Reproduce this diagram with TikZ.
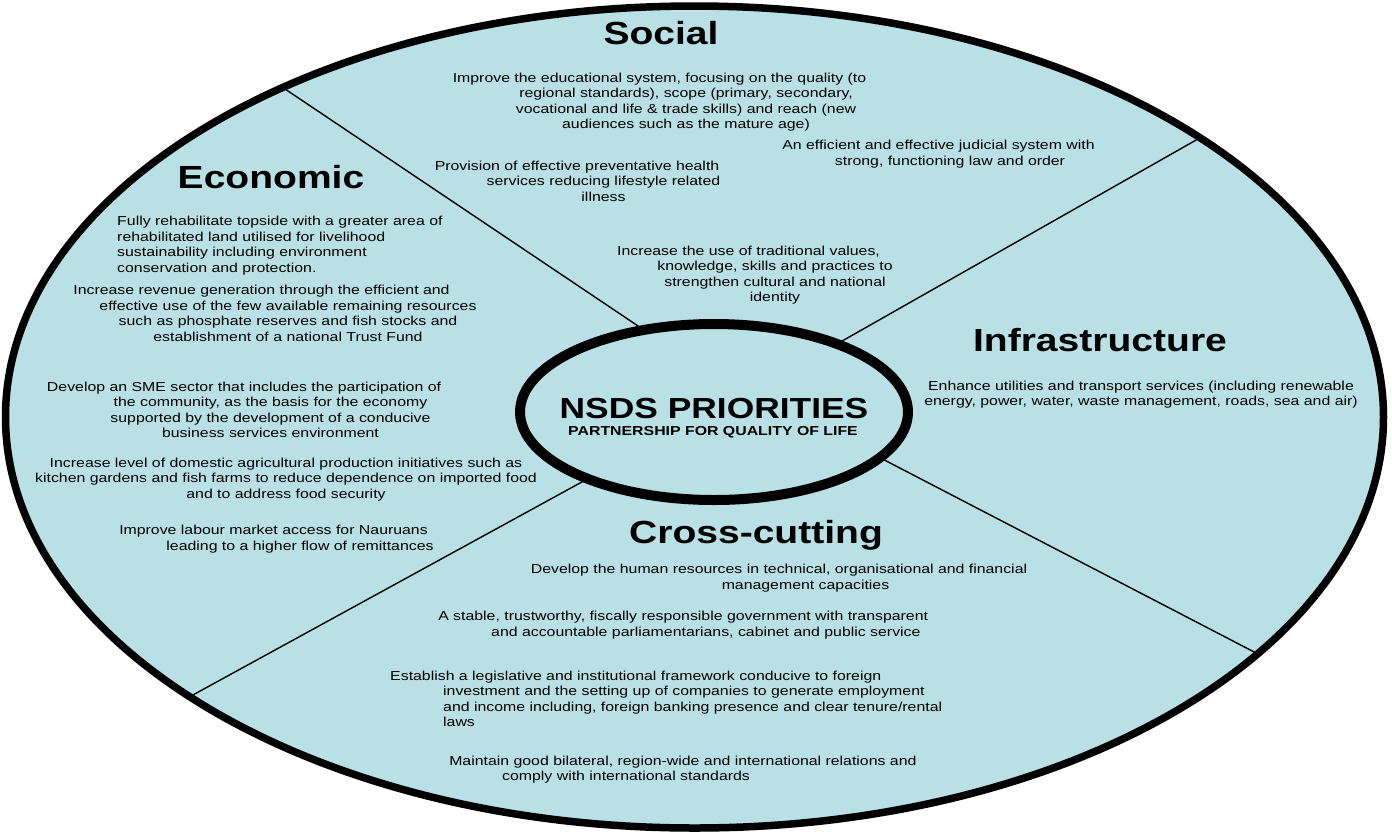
\documentclass[tikz,border=0pt]{standalone}
\usepackage{fontspec}
\setmainfont{Liberation Sans}
\usetikzlibrary{shapes.geometric}
\definecolor{lagoon}{RGB}{185,224,228}
% first-line outdent used by most paragraphs
\newcommand{\hangpad}{\hspace*{43.4pt}}
\begin{document}
\begin{tikzpicture}[x=0.81967pt, y=-1pt, xscale=1.22,
  every node/.append style={transform shape, inner sep=0pt},
  heading/.style={font=\fontsize{32}{38}\selectfont\bfseries},
  body/.style={font=\fontsize{13}{15.5}\selectfont, align=center},
  bodyleft/.style={font=\fontsize{13}{15.5}\selectfont, align=left, anchor=west},
  spoke/.style={line width=1.4pt},
]
\useasboundingbox (0,0) rectangle (1392,836);

% outer disc
\fill[lagoon] (694.5,417) ellipse [x radius=564.75pt, y radius=411pt];

% dividing spokes
\coordinate (h1) at (660,340.8);  \coordinate (r1) at (285,89);
\coordinate (h2) at (820,353.5);  \coordinate (r2) at (1200,137.7);
\coordinate (h3) at (870,452.6);  \coordinate (r3) at (1258,654.1);
\coordinate (h4) at (600,472);    \coordinate (r4) at (187,698.2);
\draw[spoke] (h1) -- (r1);
\draw[spoke] (h2) -- (r2);
\draw[spoke] (h3) -- (r3);
\draw[spoke] (h4) -- (r4);

% central hub
\node[draw, ellipse, fill=lagoon, line width=10pt,
      minimum width=318pt, minimum height=176pt] (hub) at (714,412) {};

% outer rim
\draw[line width=7.5pt] (694.5,417) ellipse [x radius=564.75pt, y radius=411pt];

% hub title
\node[font=\fontsize{29}{34}\selectfont\bfseries] (hubtitle) at (714,408.5) {NSDS PRIORITIES};
\node[font=\fontsize{13}{15}\selectfont\bfseries] (hubsub) at (713,432.5) {PARTNERSHIP FOR QUALITY OF LIFE};

% sector headings
\node[heading] (socialT) at (661,33) {Social};
\node[heading] (econT) at (271,177) {Economic};
\node[heading] (infraT) at (1100,340) {Infrastructure};
\node[heading] (crossT) at (756,535.5) {Cross-cutting};

% Social
\node[body] (s1) at (686,102) {Improve the educational system, focusing on the quality (to\hangpad\\regional standards), scope (primary, secondary,\\vocational and life \& trade skills) and reach (new\\audiences such as the mature age)};
\node[body] (s2) at (603.5,181) {Provision of effective preventative health\hangpad\\services reducing lifestyle related\\illness};
\node[body] (s3) at (950,154) {An efficient and effective judicial system with\hspace*{18.9pt}\\strong, functioning law and order};
\node[body] (s4) at (775,275) {Increase the use of traditional values,\hangpad\\knowledge, skills and practices to\\strengthen cultural and national\\identity};

% Economic
\node[bodyleft] (e1) at (117,245.5) {Fully rehabilitate topside with a greater area of\\rehabilitated land utilised for livelihood\\sustainability including environment\\conservation and protection.};
\node[body] (e2) at (288,313.5) {Increase revenue generation through the efficient and\hangpad\\effective use of the few available remaining resources\\such as phosphate reserves and fish stocks and\\establishment of a national Trust Fund};
\node[body] (e3) at (270.5,410) {Develop an SME sector that includes the participation of\hangpad\\the community, as the basis for the economy\\supported by the development of a conducive\\business services environment};
\node[body] (e4) at (286,479.5) {Increase level of domestic agricultural production initiatives such as\\kitchen gardens and fish farms to reduce dependence on imported food\\and to address food security};
\node[body] (e5) at (300,539) {Improve labour market access for Nauruans\hangpad\\leading to a higher flow of remittances};

% Infrastructure
\node[body] (i1) at (1141,394.5) {Enhance utilities and transport services (including renewable\\energy, power, water, waste management, roads, sea and air)};

% Cross-cutting
\node[body] (c1) at (805.5,578) {Develop the human resources in technical, organisational and financial\hangpad\\management capacities};
\node[bodyleft] (c2) at (438,625) {A stable, trustworthy, fiscally responsible government with transparent\\\hangpad and accountable parliamentarians, cabinet and public service};
\node[bodyleft] (c3) at (390,699) {Establish a legislative and institutional framework conducive to foreign\\\hangpad investment and the setting up of companies to generate employment\\\hangpad and income including, foreign banking presence and clear tenure/rental\\\hangpad laws};
\node[bodyleft] (c4) at (449,769.5) {Maintain good bilateral, region-wide and international relations and\\\hangpad comply with international standards};
\end{tikzpicture}
\end{document}
